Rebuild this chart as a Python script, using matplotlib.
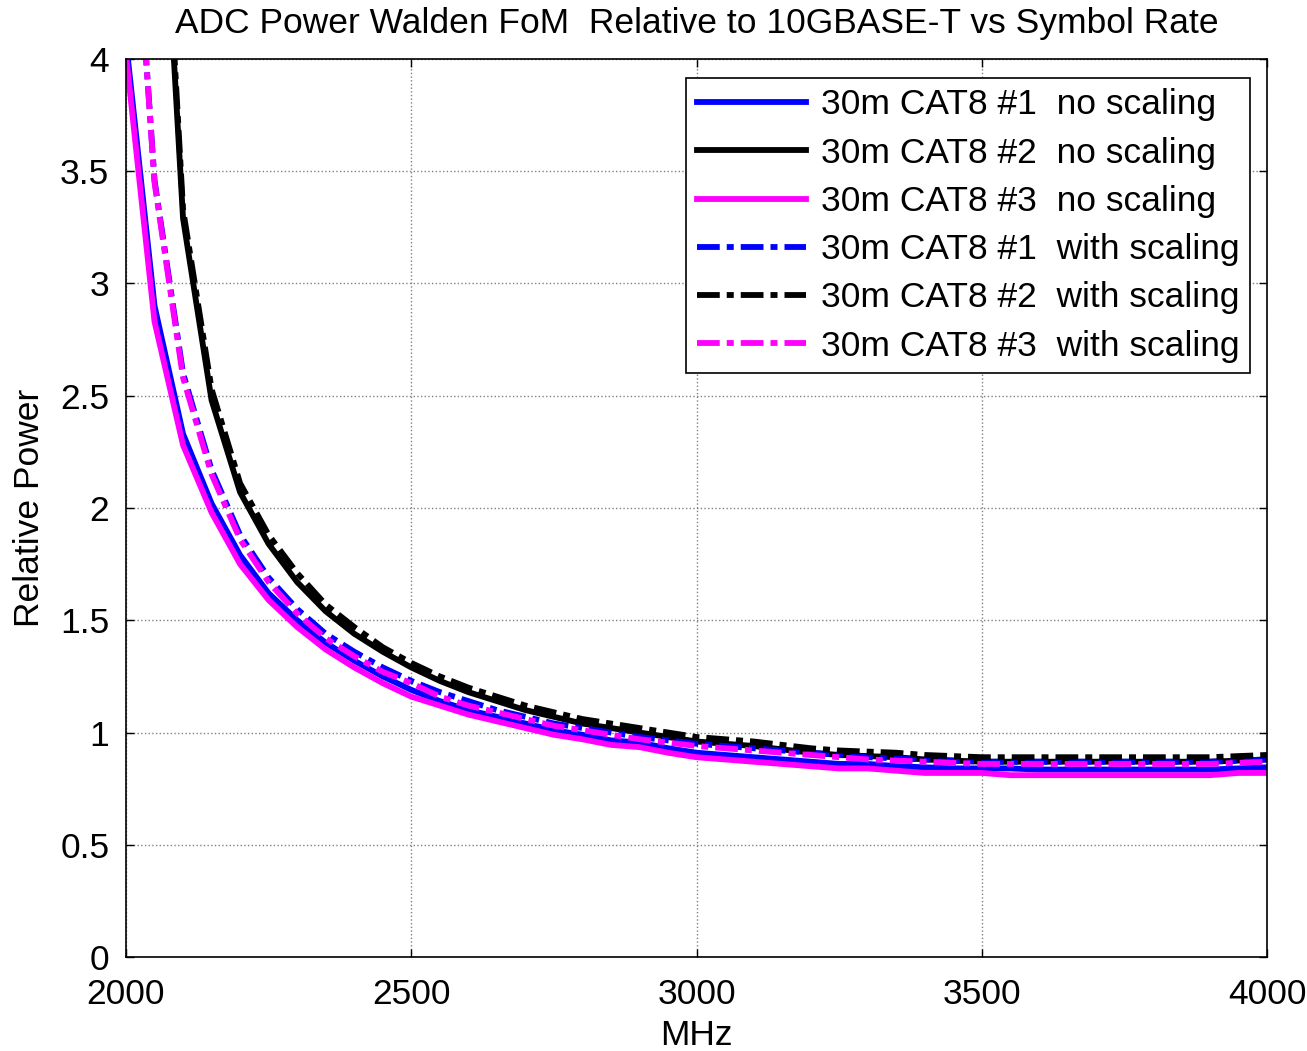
import matplotlib
matplotlib.use("Agg")
import matplotlib.pyplot as plt
import numpy as np

plt.rcParams['font.family'] = ['Liberation Sans', 'DejaVu Sans']

# symbol rate (MHz), sampled every 50 MHz
mhz = np.arange(2000, 4001, 50)

# relative power
b_ns = [4.08, 2.90, 2.33, 2.02, 1.79, 1.62, 1.50, 1.40, 1.32, 1.25, 1.19,
        1.14, 1.10, 1.07, 1.04, 1.01, 0.99, 0.965, 0.955, 0.93, 0.91,
        0.90, 0.89, 0.88, 0.87, 0.86, 0.86, 0.85, 0.845, 0.84, 0.84,
        0.84, 0.835, 0.835, 0.835, 0.835, 0.835, 0.835, 0.835, 0.84, 0.845]
k_ns = [9.5, 5.5, 3.29, 2.48, 2.07, 1.84, 1.67, 1.54, 1.44, 1.36, 1.29,
        1.23, 1.18, 1.14, 1.10, 1.07, 1.04, 1.02, 1.00, 0.98, 0.96,
        0.95, 0.94, 0.925, 0.91, 0.90, 0.895, 0.89, 0.88, 0.875, 0.87,
        0.87, 0.87, 0.87, 0.87, 0.87, 0.87, 0.87, 0.87, 0.875, 0.88]
m_ns = [4.02, 2.83, 2.28, 1.98, 1.75, 1.59, 1.47, 1.37, 1.29, 1.22, 1.16,
        1.12, 1.08, 1.05, 1.02, 0.99, 0.97, 0.945, 0.935, 0.91, 0.89,
        0.88, 0.87, 0.86, 0.85, 0.84, 0.84, 0.83, 0.82, 0.82, 0.82,
        0.81, 0.81, 0.81, 0.81, 0.81, 0.81, 0.81, 0.81, 0.82, 0.82]
b_ws = [5.3, 3.46, 2.60, 2.17, 1.88, 1.69, 1.55, 1.44, 1.36, 1.29, 1.23,
        1.18, 1.14, 1.10, 1.07, 1.04, 1.02, 1.00, 0.98, 0.965, 0.95,
        0.94, 0.93, 0.92, 0.91, 0.90, 0.89, 0.885, 0.88, 0.875, 0.87,
        0.87, 0.87, 0.87, 0.87, 0.87, 0.87, 0.87, 0.87, 0.875, 0.88]
k_ws = [9.7, 5.6, 3.33, 2.53, 2.11, 1.88, 1.71, 1.57, 1.47, 1.38, 1.31,
        1.25, 1.20, 1.16, 1.12, 1.09, 1.06, 1.04, 1.02, 1.00, 0.98,
        0.97, 0.96, 0.945, 0.93, 0.92, 0.915, 0.91, 0.90, 0.895, 0.89,
        0.89, 0.89, 0.89, 0.89, 0.89, 0.89, 0.89, 0.89, 0.895, 0.90]
m_ws = [5.3, 3.45, 2.58, 2.15, 1.86, 1.67, 1.53, 1.42, 1.34, 1.27, 1.22,
        1.16, 1.12, 1.09, 1.06, 1.03, 1.01, 0.99, 0.97, 0.955, 0.94,
        0.93, 0.92, 0.91, 0.90, 0.89, 0.88, 0.875, 0.87, 0.865, 0.86,
        0.86, 0.86, 0.86, 0.86, 0.86, 0.86, 0.86, 0.86, 0.865, 0.87]

labels = ["30m CAT8 #1  no scaling", "30m CAT8 #2  no scaling",
          "30m CAT8 #3  no scaling", "30m CAT8 #1  with scaling",
          "30m CAT8 #2  with scaling", "30m CAT8 #3  with scaling"]
series = [b_ns, k_ns, m_ns, b_ws, k_ws, m_ws]
colors = ["#0000ff", "#000000", "#ff00ff", "#0000ff", "#000000", "#ff00ff"]
dashed = [False, False, False, True, True, True]

fs = 25.5
fig = plt.figure(figsize=(13.07, 10.51), dpi=100)
ax = fig.add_axes([0.0964, 0.0894, 0.873, 0.8545])

for y, c, d, lab in zip(series, colors, dashed, labels):
    line, = ax.plot(mhz, y, color=c, lw=4.2, label=lab)
    if d:
        line.set_dashes((3.9, 1.2, 1.2, 1.2))

ax.set_xlim(2000, 4000)
ax.set_ylim(0, 4)
ax.set_xticks([2000, 2500, 3000, 3500, 4000])
ax.set_yticks([0, 0.5, 1, 1.5, 2, 2.5, 3, 3.5, 4])
ax.set_yticklabels(["0", "0.5", "1", "1.5", "2", "2.5", "3", "3.5", "4"])
ax.grid(True, color="#808080", linestyle=":", linewidth=1)
ax.tick_params(direction="in", length=6, width=1, top=True, right=True,
               labelsize=fs)
ax.tick_params(axis="x", pad=15)
ax.tick_params(axis="y", pad=12)
for s in ax.spines.values():
    s.set_linewidth(1.2)

ax.set_title("ADC Power Walden FoM  Relative to 10GBASE-T vs Symbol Rate",
             fontsize=fs, pad=19)
ax.set_xlabel("MHz", fontsize=fs, labelpad=6)
ax.set_ylabel("Relative Power", fontsize=fs, labelpad=10)

leg = ax.legend(loc="upper right", bbox_to_anchor=(0.985, 0.979),
                borderaxespad=0, fontsize=fs, handlelength=3.1,
                handletextpad=0.4, labelspacing=0.43, borderpad=0.3,
                fancybox=False, framealpha=1, edgecolor="black")
leg.get_frame().set_linewidth(1.2)

fig.savefig("out.png", dpi=100)
